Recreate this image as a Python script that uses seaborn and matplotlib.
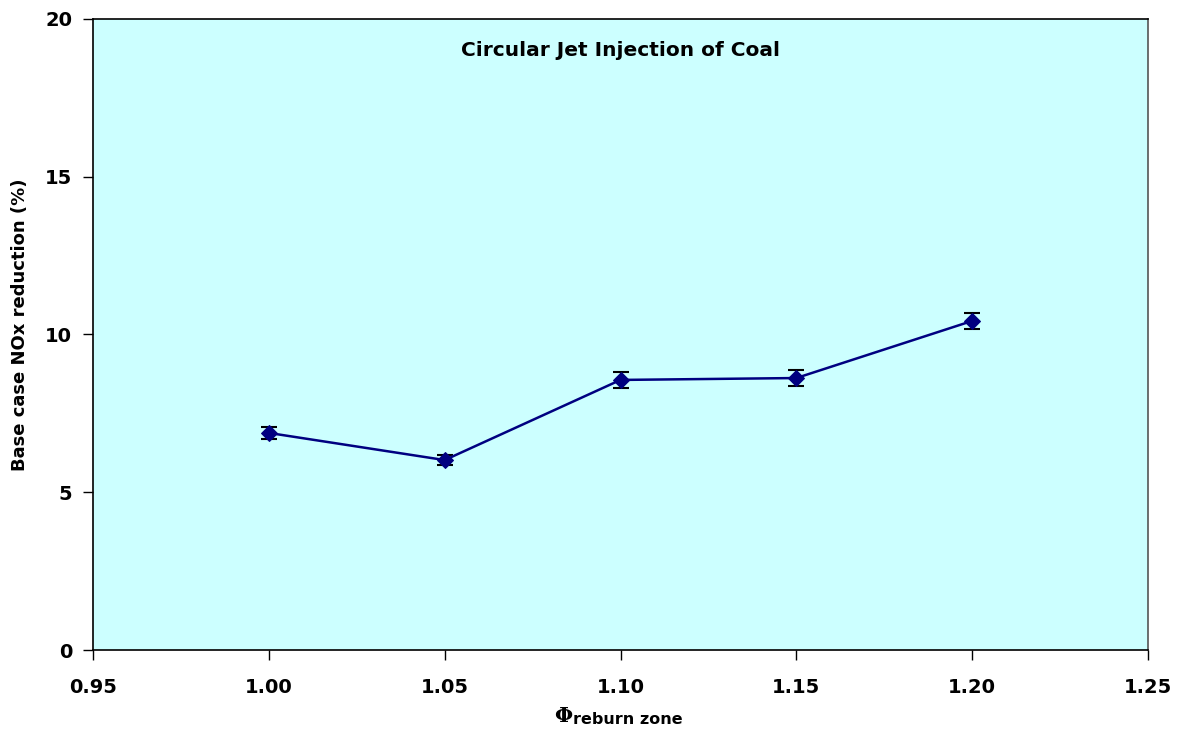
import matplotlib
matplotlib.use("Agg")
import matplotlib.pyplot as plt
import seaborn as sns
import pandas as pd
import numpy as np

phi = [1.00, 1.05, 1.10, 1.15, 1.20]
nox_reduction = [6.88, 6.02, 8.56, 8.62, 10.43]
err = [0.18, 0.16, 0.24, 0.24, 0.26]
x_ticks = [0.95, 1.00, 1.05, 1.10, 1.15, 1.20, 1.25]
y_ticks = [0, 5, 10, 15, 20]
title = "Circular Jet Injection of Coal"
ylabel = "Base case NOx reduction (%)"

sns.set_style("white")
plt.rcParams['font.family'] = ['DejaVu Sans']
plt.rcParams['text.color'] = 'black'
plt.rcParams['axes.labelcolor'] = 'black'
plt.rcParams['xtick.color'] = 'black'
plt.rcParams['ytick.color'] = 'black'

fig = plt.figure(figsize=(11.89, 7.41), dpi=100)
ax = fig.add_axes([93/1189, 91/741, (1148-93)/1189, (650-19)/741])
ax.set_facecolor("#CCFFFF")

df = pd.DataFrame({"phi": phi, "nox": nox_reduction})
ax.errorbar(phi, nox_reduction, yerr=err, fmt="none", ecolor="black",
            elinewidth=1.5, capsize=6, capthick=1.5, zorder=2)
sns.lineplot(data=df, x="phi", y="nox", ax=ax, color="#000080", linewidth=1.8,
             marker="D", markersize=8, markeredgecolor="#000080",
             markerfacecolor="#000080", zorder=3)

ax.set_xlim(0.95, 1.25)
ax.set_ylim(0, 20)
ax.set_xticks(x_ticks)
ax.set_xticklabels([f"{v:.2f}" for v in x_ticks])
ax.set_yticks(y_ticks)
ax.tick_params(axis="both", direction="out", length=7, width=1, color="black",
               labelsize=14, bottom=True, left=True, labelcolor="black")
ax.tick_params(axis="x", pad=13)
ax.tick_params(axis="y", pad=8)
for lab in ax.get_xticklabels() + ax.get_yticklabels():
    lab.set_fontweight("bold")

for s in ["left", "bottom", "top"]:
    ax.spines[s].set_color("black")
    ax.spines[s].set_linewidth(1.2)
ax.spines["right"].set_color("#555555")
ax.spines["right"].set_linewidth(1.2)

ax.set_xlabel("")
ax.set_ylabel(ylabel, fontsize=13, fontweight="bold", color="black",
              va="center", ha="center")
ax.yaxis.set_label_coords(-0.069, 0.515)
ax.text(0.5, 0.95, title, transform=ax.transAxes, ha="center", va="center",
        fontsize=14.5, fontweight="bold", color="black")

fig.text(563/1189, 1 - 716/741, "Φ", fontsize=15, fontweight="bold",
         family="DejaVu Serif", ha="center", va="center", color="black")
fig.text(573/1189, 1 - 720/741, "reburn zone", fontsize=11.5, fontweight="bold",
         ha="left", va="center", color="black")

fig.savefig("out.png", dpi=100)
